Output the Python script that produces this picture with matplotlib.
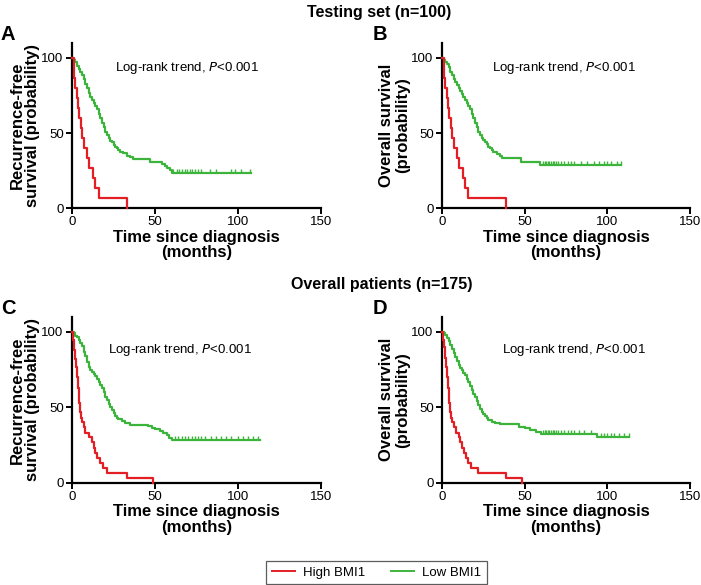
import numpy as np
import matplotlib
matplotlib.use("Agg")
import matplotlib.pyplot as plt
from matplotlib.lines import Line2D

plt.rcParams['font.family'] = ['Liberation Sans', 'DejaVu Sans']

RED = "#e31e24"
GREEN = "#3cb43c"

# Panel A - testing set, recurrence-free survival
a_high_t = [0, 1, 1.5, 2, 3, 3.5, 4.5, 5.5, 6, 7.5, 9, 10.5, 12.5, 14, 16, 33]
a_high_s = [100, 93.3, 86.7, 80, 73.3, 66.7, 60, 53.3, 46.7, 40, 33.3, 26.7, 20, 13.3, 6.7, 0]
a_low_t = [0, 1, 2, 3, 4, 5, 6, 7, 8, 9, 10, 11, 12, 13, 14, 15, 16, 17, 18, 19, 20,
           21, 22, 23, 24, 25, 26, 27, 28, 29, 31, 33, 35, 37, 47, 54, 56, 57.5, 59, 60, 108]
a_low_s = [100, 99, 97.6, 95, 93, 91, 89, 86, 83, 80, 77, 74, 72, 70, 68, 66, 63, 60, 57, 54, 51,
           49, 47, 45, 44, 42, 41, 40, 38.7, 37.6, 36.4, 35, 34, 33, 30.6, 29.4, 28.2, 27, 25.5, 23.5, 23.5]
a_cens = [61, 63, 64.5, 66, 68, 69.5, 71, 72.5, 74, 76, 78, 83, 87, 96, 98, 102, 107]

# Panel B - testing set, overall survival
b_high_t = [0, 1, 1.5, 2, 3, 3.5, 4.5, 5.5, 6, 7.5, 9, 10.5, 12.5, 14, 16, 39]
b_high_s = [100, 93.3, 86.7, 80, 73.3, 66.7, 60, 53.3, 46.7, 40, 33.3, 26.7, 20, 13.3, 6.7, 0]
b_low_t = [0, 1, 2, 3, 4, 5, 6, 7, 8, 9, 10, 11, 12, 13, 14, 15, 16, 17, 18, 19, 20,
           21, 22, 23, 24, 25, 26, 27, 28, 29, 30, 31, 33, 35, 36.5, 48, 59, 108]
b_low_s = [100, 99, 97.5, 96, 94, 91, 89, 86, 84, 82, 80, 78, 76, 74, 72, 70, 68, 66, 63, 60, 57,
           54, 51, 49, 47, 45.5, 44, 42.5, 41, 40, 38.7, 37.5, 36, 34.5, 33.3, 31, 28.8, 28.8]
b_cens = [61, 62, 63, 64, 65, 66, 67, 68, 69, 70, 72, 74, 76, 78, 80, 84, 88, 92, 95, 98, 100, 102, 106, 108]

# Panel C - overall patients, recurrence-free survival
c_high_t = [0, 0.8, 1.5, 2, 2.5, 3, 3.5, 4, 4.5, 5, 5.5, 6, 7, 8, 10, 12, 13, 14, 15, 17, 18.5, 21, 33, 48.5]
c_high_s = [100, 95, 88, 82, 77, 70, 63, 58, 53, 47, 43, 40, 36.7, 33.3, 30, 26.7, 23.3, 20, 16.7,
            13.3, 10, 6.7, 3.3, 0]
c_low_t = [0, 1, 2, 3, 4, 5, 6, 7, 8, 9, 10, 11, 12, 13, 14, 15, 16, 17, 18, 19, 20,
           21, 22, 23, 24, 25, 26, 27, 28, 30, 32, 35, 46, 48, 50, 53, 55, 57, 58.5, 60, 113]
c_low_s = [100, 99, 97.5, 96.5, 95, 93, 90.5, 87, 84, 80, 77, 75, 73.5, 72, 71, 69, 67, 65, 63, 60, 57,
           55, 52, 50, 48, 46, 44.5, 43, 42, 41, 39.5, 38.5, 37.5, 36.5, 35.5, 34.5, 33, 31.5, 29.5, 28.3, 28.3]
c_cens = [62, 64, 66, 68, 70, 72, 74, 76, 78, 80, 84, 87, 90, 93, 96, 100, 103, 106, 109, 112]

# Panel D - overall patients, overall survival
d_high_t = [0, 0.8, 1.4, 2, 2.5, 3, 3.5, 4, 4.5, 5, 5.5, 6, 7.5, 8.5, 10, 11, 12, 13.5, 14.5, 16, 17.5,
            21.5, 38.5, 48.5]
d_high_s = [100, 95, 90, 83, 77, 70, 63, 58, 53, 47, 43, 40, 36.7, 33.3, 30, 26.7, 23.3, 20, 16.7,
            13.3, 10, 6.7, 3.3, 0]
d_low_t = [0, 1, 2, 3, 4, 5, 6, 7, 8, 9, 10, 11, 12, 13, 14, 15, 16, 17, 18, 19, 20,
           21, 22, 23, 24, 25, 26, 27, 28, 30, 32, 35, 46.5, 50, 53, 57, 60, 94, 113]
d_low_s = [100, 99, 98, 96, 94, 91.5, 89, 86, 83.5, 80.5, 78, 76, 74.5, 73, 71.5, 69, 67, 64, 61.5, 59, 57,
           54, 51.5, 49, 47, 45.5, 44, 43, 41.6, 40.5, 39.5, 38.8, 37.2, 36, 34.8, 33.5, 32.5, 30.2, 30.2]
d_cens = [61, 62, 63, 64, 65, 66, 67, 68, 69, 70, 72, 74, 76, 78, 80, 83, 86, 90, 96, 98, 100, 102, 104, 107, 110, 113]

ylabels = ["Recurrence-free\nsurvival (probability)", "Overall survival\n(probability)",
           "Recurrence-free\nsurvival (probability)", "Overall survival\n(probability)"]
letters = ["A", "B", "C", "D"]

fig = plt.figure(figsize=(7.01, 5.85), dpi=100)
W, H = 701, 585


def px_axes(x0, x1, ybot, ytop):
    return fig.add_axes([x0 / W, 1 - ybot / H, (x1 - x0) / W, (ybot - ytop) / H])


axes = [px_axes(72, 321, 208, 43), px_axes(442, 690, 208, 43),
        px_axes(72, 321, 482.7, 316.9), px_axes(442, 690, 482.7, 316.9)]

panels = [
    (a_high_t, a_high_s, a_low_t, a_low_s, a_cens, (26, 93)),
    (b_high_t, b_high_s, b_low_t, b_low_s, b_cens, (30, 93)),
    (c_high_t, c_high_s, c_low_t, c_low_s, c_cens, (21.5, 88)),
    (d_high_t, d_high_s, d_low_t, d_low_s, d_cens, (36, 88)),
]

for ax, (ht, hs, lt, ls, cens, txt), ylab in zip(axes, panels, ylabels):
    ax.step(lt, ls, where='post', color=GREEN, lw=1.6, clip_on=False, zorder=3)
    ax.step(ht, hs, where='post', color=RED, lw=1.6, clip_on=False, zorder=4)
    # censor marks sit on the low-BMI1 plateau
    idx = np.searchsorted(lt, cens, side='right') - 1
    cy = np.array(ls)[idx]
    ax.plot(cens, cy + 1.2, ls='none', marker='|', ms=3.5, mew=1.0, color=GREEN, clip_on=False)

    ax.set_xlim(0, 150)
    ax.set_ylim(0, 110)
    ax.set_xticks([0, 50, 100, 150])
    ax.set_yticks([0, 50, 100])
    for s in ['top', 'right']:
        ax.spines[s].set_visible(False)
    for s in ['left', 'bottom']:
        ax.spines[s].set_linewidth(1.6)
    ax.tick_params(width=1.4, length=4, labelsize=9.5, pad=2)
    ax.set_xlabel("Time since diagnosis\n(months)", fontsize=12, fontweight='bold', labelpad=1,
                  linespacing=1.05)
    ax.set_ylabel(ylab, fontsize=12, fontweight='bold', labelpad=1, linespacing=1.05)
    ax.text(txt[0], txt[1], r"Log-rank trend, $\it{P}$<0.001", fontsize=9.5, va='center', ha='left')

fig.text(379 / W, 1 - 12 / H, "Testing set (n=100)", ha='center', va='center', fontsize=11.5, fontweight='bold')
fig.text(382 / W, 1 - 284 / H, "Overall patients (n=175)", ha='center', va='center', fontsize=11.5, fontweight='bold')

for letter, (lx, ly) in zip(letters, [(8, 35), (380, 35), (8, 308), (380, 308)]):
    fig.text(lx / W, 1 - ly / H, letter, ha='center', va='center', fontsize=14.5, fontweight='bold')

handles = [Line2D([], [], color=RED, lw=1.4), Line2D([], [], color=GREEN, lw=1.4)]
leg = fig.legend(handles, ["High BMI1", "Low BMI1"], loc='center', ncol=2,
                 bbox_to_anchor=(376.5 / W, 1 - 572.5 / H), fontsize=9.5, frameon=True,
                 fancybox=False, edgecolor='#333333', handlelength=1.8, handletextpad=0.6,
                 columnspacing=1.9, borderpad=0.4)
leg.get_frame().set_linewidth(0.9)

fig.savefig("out.png", dpi=100)
